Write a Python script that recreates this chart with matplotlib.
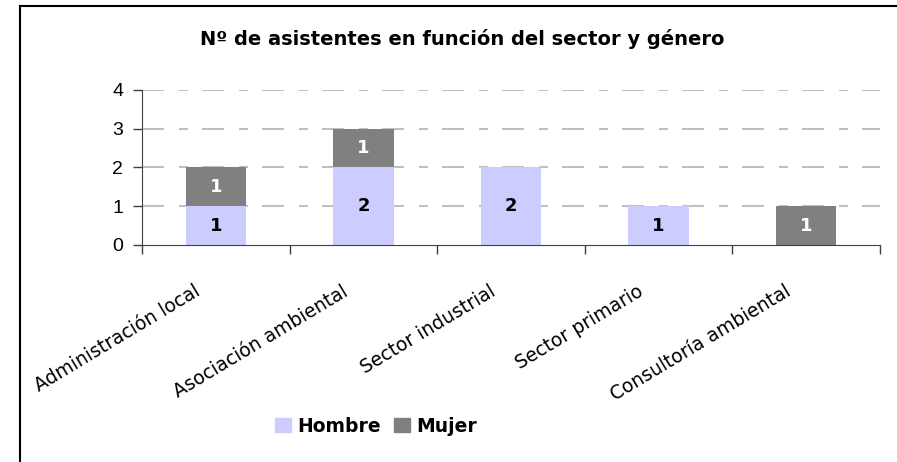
import numpy as np
import matplotlib.pyplot as plt
from matplotlib.lines import Line2D
from matplotlib.patches import Patch
import matplotlib.transforms as mtransforms

# Data
sectores = ["Administración local", "Asociación ambiental", "Sector industrial",
            "Sector primario", "Consultoría ambiental"]
hombre = [1, 2, 2, 1, 0]
mujer = [1, 1, 0, 0, 1]
y_ticks = [0, 1, 2, 3, 4]
titulo = "Nº de asistentes en función del sector y género"

color_hombre = "#ccccff"
color_mujer = "#808080"

fig = plt.figure(figsize=(8.97, 4.62), dpi=100)
ax = fig.add_axes([0.1583, 0.4697, 0.8227, 0.3355])

x = np.arange(len(sectores))
ax.bar(x, hombre, width=0.41, color=color_hombre, zorder=2)
ax.bar(x, mujer, width=0.41, bottom=hombre, color=color_mujer, zorder=2)

# Value labels inside bars
for i in range(len(sectores)):
    if hombre[i] > 0:
        ax.text(x[i], hombre[i] / 2, str(hombre[i]), ha='center', va='center',
                fontsize=13, fontweight='bold', color='black', zorder=3)
    if mujer[i] > 0:
        ax.text(x[i], hombre[i] + mujer[i] / 2, str(mujer[i]), ha='center', va='center',
                fontsize=13, fontweight='bold', color='white', zorder=3)

# Axes styling
ax.set_xlim(-0.5, len(sectores) - 0.5)
ax.set_ylim(0, 4)
ax.set_yticks(y_ticks)
ax.set_yticklabels([str(v) for v in y_ticks], fontsize=14, family='Liberation Sans')
ax.set_xticks(np.arange(-0.5, len(sectores), 1.0))
ax.set_xticklabels([])
ax.tick_params(axis='both', direction='out', length=6.5, width=1, color='#404040', pad=7)
for s in ['top', 'right']:
    ax.spines[s].set_visible(False)
ax.spines['left'].set_color('#404040')
ax.spines['bottom'].set_color('#404040')

# Dashed grid (long - short pattern)
for v in y_ticks[1:]:
    ax.axhline(v, color='#c0c0c0', linewidth=1.5, dashes=(10.6, 7.2, 4.3, 6.7), zorder=1)

# Category labels, rotated
offset = mtransforms.ScaledTranslation(-12 / 100, -37 / 100, fig.dpi_scale_trans)
trans = mtransforms.blended_transform_factory(ax.transData, ax.transAxes) + offset
for i, nombre in enumerate(sectores):
    ax.text(x[i], 0, nombre, transform=trans, rotation=31, ha='right', va='top',
            fontsize=13.5, family='DejaVu Sans')

# Title
fig.text(462 / 897, 1 - 45 / 462, titulo, ha='center', va='baseline',
         fontsize=14, fontweight='bold')

# Legend
handles = [Patch(color=color_hombre, label='Hombre'), Patch(color=color_mujer, label='Mujer')]
fig.legend(handles=handles, loc='center', bbox_to_anchor=(376 / 897, 1 - 426 / 462), ncol=2,
           frameon=False, handlelength=0.85, handleheight=0.85, handletextpad=0.35,
           columnspacing=0.7, prop={'weight': 'bold', 'size': 13.5})

# Frame lines (left and top)
fig.add_artist(Line2D([20 / 897, 20 / 897], [0, 1 - 6 / 462], color='black', linewidth=1.5))
fig.add_artist(Line2D([20 / 897, 1], [1 - 6 / 462, 1 - 6 / 462], color='black', linewidth=1.5))

plt.savefig('out.png', dpi=100)
